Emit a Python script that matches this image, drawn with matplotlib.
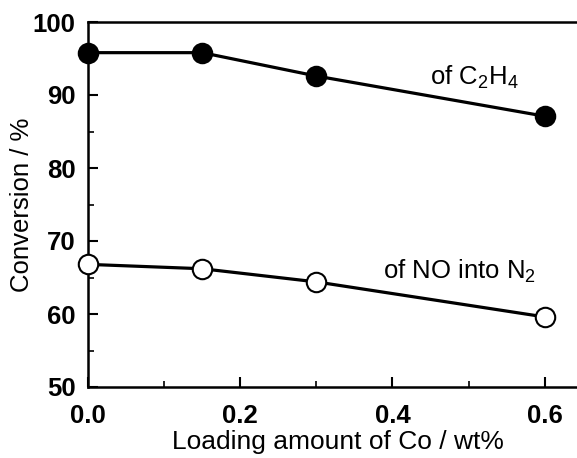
import matplotlib
matplotlib.use('Agg')
import matplotlib.pyplot as plt
from matplotlib.ticker import MultipleLocator

plt.rcParams['font.family'] = ['Liberation Sans', 'DejaVu Sans']
plt.rcParams['mathtext.fontset'] = 'custom'
plt.rcParams['mathtext.rm'] = 'Liberation Sans'

# Datos
loading = [0.0, 0.15, 0.3, 0.6]
conv_c2h4 = [95.8, 95.8, 92.6, 87.1]
conv_no_n2 = [66.8, 66.2, 64.4, 59.6]

fig = plt.figure(figsize=(5.77, 4.58), dpi=100)
ax = fig.add_axes([88 / 577, 1 - 387 / 458, 1 - 88 / 577 + 0.02, (387 - 22) / 458])

ax.plot(loading, conv_c2h4, '-o', color='black', lw=2.3, ms=14,
        mfc='black', mec='black', mew=1.5, clip_on=False, zorder=3)
ax.plot(loading, conv_no_n2, '-o', color='black', lw=2.3, ms=14,
        mfc='white', mec='black', mew=1.5, clip_on=False, zorder=3)

ax.text(0.449, 92.4, 'of C$_2$H$_4$', fontsize=18.5, va='center', ha='left')
ax.text(0.388, 65.9, 'of NO into N$_2$', fontsize=18.5, va='center', ha='left')

ax.set_xlim(0.0, 0.6577)
ax.set_ylim(50, 100)
ax.xaxis.set_major_locator(MultipleLocator(0.2))
ax.xaxis.set_minor_locator(MultipleLocator(0.1))
ax.yaxis.set_major_locator(MultipleLocator(10))
ax.yaxis.set_minor_locator(MultipleLocator(5))
ax.xaxis.set_major_formatter(plt.FuncFormatter(lambda v, p: '%.1f' % v))

ax.tick_params(which='major', direction='in', length=7, width=1.5, labelsize=18.5)
ax.tick_params(axis='x', which='major', pad=12)
ax.tick_params(axis='y', which='major', pad=9)
ax.tick_params(which='minor', direction='in', length=4, width=1.2)
for lab in ax.get_xticklabels() + ax.get_yticklabels():
    lab.set_fontweight('bold')

for s in ['left', 'bottom', 'top']:
    ax.spines[s].set_linewidth(1.8)
ax.spines['right'].set_visible(False)

ax.set_xlabel('Loading amount of Co / wt%', fontsize=19, labelpad=2)
ax.set_ylabel('Conversion / %', fontsize=18.5, labelpad=-1)

fig.savefig('out.png', dpi=100)
